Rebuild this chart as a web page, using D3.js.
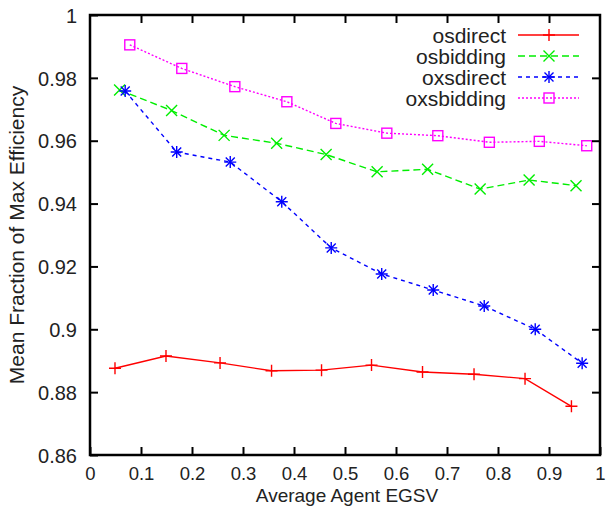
<!DOCTYPE html>
<html>
<head>
<meta charset="utf-8">
<script src="https://cdn.jsdelivr.net/npm/d3@7"></script>
<style>
  body { margin: 0; background: #fff; }
  text { font-family: "Liberation Sans", Arial, sans-serif; fill: #222; }
</style>
</head>
<body>
<script>
// Mean fraction of max efficiency vs average agent EGSV

const w = 608;
const h = 506;
const margin = { left: 90, right: 8, top: 15, bottom: 51 };

const seriesNames = ["osdirect", "osbidding", "oxsdirect", "oxsbidding"];
const seriesColors = ["#ff0000", "#00ee00", "#0000ff", "#ff00ff"];
const seriesDash = [null, "7,4", "4,4", "2,2"];
const seriesMarks = ["plus", "cross", "star", "square"];

const osdirectX = [0.049, 0.149, 0.255, 0.356, 0.454, 0.552, 0.652, 0.753, 0.853, 0.944];
const osdirectY = [0.8876, 0.8915, 0.8893, 0.8868, 0.8870, 0.8886, 0.8864, 0.8857, 0.8843, 0.8755];

const osbiddingX = [0.058, 0.160, 0.263, 0.366, 0.463, 0.563, 0.662, 0.765, 0.861, 0.953];
const osbiddingY = [0.9761, 0.9696, 0.9617, 0.9592, 0.9556, 0.9501, 0.9509, 0.9446, 0.9475, 0.9457];

const oxsdirectX = [0.069, 0.170, 0.275, 0.376, 0.473, 0.572, 0.673, 0.773, 0.873, 0.965];
const oxsdirectY = [0.9758, 0.9564, 0.9532, 0.9406, 0.9259, 0.9176, 0.9125, 0.9074, 0.9000, 0.8892];

const oxsbiddingX = [0.078, 0.180, 0.284, 0.386, 0.482, 0.582, 0.682, 0.783, 0.881, 0.974];
const oxsbiddingY = [0.9905, 0.9830, 0.9772, 0.9724, 0.9655, 0.9624, 0.9616, 0.9595, 0.9598, 0.9584];

const xTicks = [0, 0.1, 0.2, 0.3, 0.4, 0.5, 0.6, 0.7, 0.8, 0.9, 1];
const yTicks = [0.86, 0.88, 0.9, 0.92, 0.94, 0.96, 0.98, 1];

const seriesX = [osdirectX, osbiddingX, oxsdirectX, oxsbiddingX];
const seriesY = [osdirectY, osbiddingY, oxsdirectY, oxsbiddingY];

const series = seriesNames.map((name, i) => ({
  name: name,
  color: seriesColors[i],
  dash: seriesDash[i],
  mark: seriesMarks[i],
  points: seriesX[i].map((x, j) => ({ x: x, y: seriesY[i][j] }))
}));

const svg = d3.select("body")
  .append("svg")
  .attr("width", w)
  .attr("height", h);

const x_scale = d3.scaleLinear()
  .domain([0, 1])
  .range([margin.left, w - margin.right]);

const y_scale = d3.scaleLinear()
  .domain([0.86, 1])
  .range([h - margin.bottom, margin.top]);

// point markers drawn as little paths
function drawMark(g, type, cx, cy, color) {
  const s = 6;
  const m = g.append("g").attr("transform", `translate(${cx},${cy})`)
    .attr("stroke", color).attr("stroke-width", 1.4).attr("fill", "none");
  if (type === "plus" || type === "star") {
    m.append("path").attr("d", `M${-s},0H${s}M0,${-s}V${s}`);
  }
  if (type === "cross" || type === "star") {
    const t = type === "star" ? 4.5 : 5.5;
    m.append("path").attr("d", `M${-t},${-t}L${t},${t}M${-t},${t}L${t},${-t}`);
  }
  if (type === "square") {
    m.append("rect").attr("x", -5).attr("y", -5).attr("width", 10).attr("height", 10);
  }
}

const line = d3.line()
  .x(d => x_scale(d.x))
  .y(d => y_scale(d.y));

const plot = svg.append("g");

series.forEach(s => {
  plot.append("path")
    .datum(s.points)
    .attr("fill", "none")
    .attr("stroke", s.color)
    .attr("stroke-width", 1.4)
    .attr("stroke-dasharray", s.dash)
    .attr("d", line);
  s.points.forEach(p => drawMark(plot, s.mark, x_scale(p.x), y_scale(p.y), s.color));
});

// axes, ticks pointing inward on all four sides
const tickLen = 8;

const x_axis = d3.axisBottom(x_scale).tickValues(xTicks)
  .tickSize(-tickLen).tickFormat(d3.format("~g"));
const y_axis = d3.axisLeft(y_scale).tickValues(yTicks)
  .tickSize(-tickLen).tickPadding(13).tickFormat(d3.format("~g"));

const gx = svg.append("g")
  .attr("transform", `translate(0,${h - margin.bottom})`)
  .call(x_axis);
const gy = svg.append("g")
  .attr("transform", `translate(${margin.left},0)`)
  .call(y_axis);

svg.append("g")
  .attr("transform", `translate(0,${margin.top})`)
  .call(d3.axisTop(x_scale).tickValues(xTicks.slice(1, -1)).tickSize(-tickLen).tickFormat(""));
svg.append("g")
  .attr("transform", `translate(${w - margin.right},0)`)
  .call(d3.axisRight(y_scale).tickValues(yTicks.slice(1, -1)).tickSize(-tickLen).tickFormat(""));

svg.selectAll(".domain").remove();
svg.selectAll(".tick line").attr("stroke", "#000").attr("stroke-width", 2);
gx.selectAll(".tick text").attr("font-size", 18.5).attr("fill", "#222")
  .attr("y", 25).attr("dy", 0);
gy.selectAll(".tick text").attr("font-size", 20).attr("fill", "#222").attr("dy", "0.36em");

// frame
svg.append("rect")
  .attr("x", margin.left)
  .attr("y", margin.top)
  .attr("width", w - margin.left - margin.right)
  .attr("height", h - margin.top - margin.bottom)
  .attr("fill", "none")
  .attr("stroke", "#000")
  .attr("stroke-width", 2.5);

// axis titles
svg.append("text")
  .attr("x", 347)
  .attr("y", 501.5)
  .attr("text-anchor", "middle")
  .attr("font-size", 19)
  .text("Average Agent EGSV");

svg.append("text")
  .attr("transform", "translate(24,235) rotate(-90)")
  .attr("text-anchor", "middle")
  .attr("font-size", 21)
  .text("Mean Fraction of Max Efficiency");

// legend
const legend = svg.append("g");
series.forEach((s, i) => {
  const yy = 35 + i * 21;
  legend.append("text")
    .attr("x", 506)
    .attr("y", yy)
    .attr("dy", "0.36em")
    .attr("text-anchor", "end")
    .attr("font-size", 21)
    .text(s.name);
  legend.append("line")
    .attr("x1", 518).attr("x2", 579)
    .attr("y1", yy).attr("y2", yy)
    .attr("stroke", s.color)
    .attr("stroke-width", 1.4)
    .attr("stroke-dasharray", s.dash);
  drawMark(legend, s.mark, 549, yy, s.color);
});
</script>
</body>
</html>
